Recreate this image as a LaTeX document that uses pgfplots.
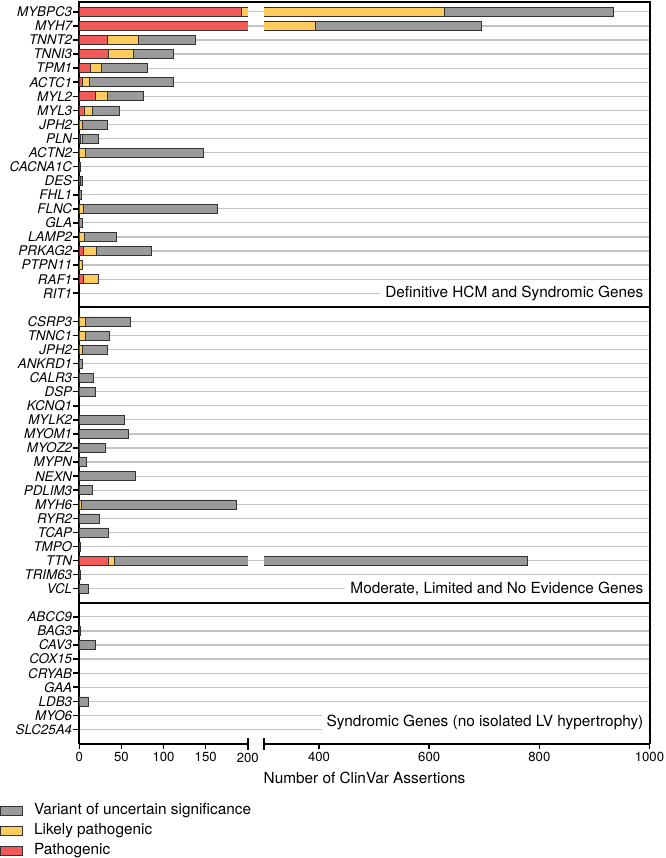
\documentclass[border=0pt]{standalone}
\usepackage{fontspec}
\setmainfont{TeX Gyre Heros}
\usepackage{pgfplots}
\usepackage{pgfplotstable}
\pgfplotsset{compat=1.18}

\definecolor{cP}{HTML}{F25A5A}
\definecolor{cLP}{HTML}{FECC5C}
\definecolor{cVUS}{HTML}{9A9A9A}
\definecolor{cEdge}{HTML}{333333}
\definecolor{cGrid}{HTML}{C4C4C4}

\newcommand\genefont{\fontsize{13.4}{15}\selectfont\itshape}
\newcommand\tickfont{\fontsize{13.2}{15}\selectfont}
\newcommand\labfont{\fontsize{15.4}{18}\selectfont}

% Panel 1: Definitive HCM and Syndromic Genes
\pgfplotstableread{
idx P LP VUS
1 192 435 308
2 260 133 301
3 33 37 68
4 35 29 47
5 13 13 55
6 4 8 100
7 19 14 43
8 6 9 32
9 0 3 30
10 1 2 19
11 0 7 140
12 0 0 1
13 0 1 2
14 0 0 2
15 0 5 159
16 0 0 3
17 0 6 38
18 5 15 66
19 0 3 0
20 5 18 0
21 0 0 0
}\panelA

% Panel 2: Moderate, Limited and No Evidence Genes
\pgfplotstableread{
idx P LP VUS
1 0 7 54
2 0 7 29
3 0 3 30
4 0 0 3
5 0 0 17
6 0 0 19
7 0 0 0
8 0 0 54
9 0 0 58
10 0 0 31
11 0 0 8
12 0 0 67
13 0 0 15
14 0 2 184
15 0 0 24
16 0 0 35
17 0 0 1
18 35 6 738
19 0 0 1
20 0 0 11
}\panelB

% Panel 3: Syndromic Genes (no isolated LV hypertrophy)
\pgfplotstableread{
idx P LP VUS
1 0 0 0
2 0 0 1
3 0 0 19
4 0 0 0
5 0 0 0
6 0 0 0
7 0 0 11
8 0 0 0
9 0 0 0
}\panelC

\pgfplotsset{
  base/.style={scale only axis, anchor=north west, y dir=reverse,
    /pgf/number format/assume math mode=true,
    /pgf/number format/1000 sep={},
    tick style={black, line width=1.5bp}},
  bg/.style={base, clip=false, xmin=0, xmax=1, width=570.2bp,
    xtick=\empty, ymajorgrids, major grid style={cGrid, line width=1.2bp},
    ytick pos=left, ytick align=outside, major tick length=6.5bp,
    yticklabel style={font=\genefont, inner xsep=0.5bp},
    axis line style={line width=2bp}},
  dat/.style={base, xbar stacked, bar width=9bp},
  left/.style={dat, width=168.5bp, xmin=0, xmax=200},
  right/.style={dat, width=385.5bp, xmin=300, xmax=1000},
  barP/.style={fill=cP, draw=cEdge, line width=0.6bp},
  barLP/.style={fill=cLP, draw=cEdge, line width=0.6bp},
  barVUS/.style={fill=cVUS, draw=cEdge, line width=0.6bp},
  barHidden/.style={fill=none, draw=none},
  lg/.style={legend image code/.code={\draw[##1] (0bp,-4.5bp) rectangle (21.7bp,4.5bp);}},
}

\begin{document}
\begin{tikzpicture}
\path[use as bounding box] (0,0) rectangle (666bp,-858bp);

% ---------- Panel 1 ----------
\begin{axis}[bg, at={(79.3bp,-2bp)}, height=305.3bp, ymin=0.3, ymax=22,
  ytick={1,...,21},
  yticklabels={MYBPC3,MYH7,TNNT2,TNNI3,TPM1,ACTC1,MYL2,MYL3,JPH2,PLN,ACTN2,CACNA1C,DES,FHL1,FLNC,GLA,LAMP2,PRKAG2,PTPN11,RAF1,RIT1}]
\node[anchor=east, fill=white, inner xsep=5bp, inner ysep=1.5bp, font=\labfont] at (axis cs:0.99825,21) {Definitive HCM and Syndromic Genes};
\end{axis}
\begin{axis}[left, hide axis, at={(79.3bp,-2bp)}, height=305.3bp, ymin=0.3, ymax=22]
\addplot[barP] table[x=P, y=idx] {\panelA};
\addplot[barLP] table[x=LP, y=idx] {\panelA};
\addplot[barVUS] table[x=VUS, y=idx] {\panelA};
\end{axis}
\begin{axis}[right, hide axis, at={(264bp,-2bp)}, height=305.3bp, ymin=0.3, ymax=22]
\addplot[barHidden] table[x=P, y=idx] {\panelA};
\addplot[barLP] table[x=LP, y=idx] {\panelA};
\addplot[barVUS] table[x=VUS, y=idx] {\panelA};
\end{axis}

% ---------- Panel 2 ----------
\begin{axis}[bg, at={(79.3bp,-307.3bp)}, height=295.5bp, ymin=0, ymax=21,
  ytick={1,...,20},
  yticklabels={CSRP3,TNNC1,JPH2,ANKRD1,CALR3,DSP,KCNQ1,MYLK2,MYOM1,MYOZ2,MYPN,NEXN,PDLIM3,MYH6,RYR2,TCAP,TMPO,TTN,TRIM63,VCL}]
\node[anchor=east, fill=white, inner xsep=5bp, inner ysep=1.5bp, font=\labfont] at (axis cs:0.99825,20) {Moderate, Limited and No Evidence Genes};
\end{axis}
\begin{axis}[left, hide axis, at={(79.3bp,-307.3bp)}, height=295.5bp, ymin=0, ymax=21]
\addplot[barP] table[x=P, y=idx] {\panelB};
\addplot[barLP] table[x=LP, y=idx] {\panelB};
\addplot[barVUS] table[x=VUS, y=idx] {\panelB};
\end{axis}
\begin{axis}[right, hide axis, at={(264bp,-307.3bp)}, height=295.5bp, ymin=0, ymax=21]
\addplot[barHidden] table[x=P, y=idx] {\panelB};
\addplot[barLP] table[x=LP, y=idx] {\panelB};
\addplot[barVUS] table[x=VUS, y=idx] {\panelB};
\end{axis}

% ---------- Panel 3 ----------
\begin{axis}[bg, at={(79.3bp,-602.8bp)}, height=140.7bp, ymin=0, ymax=10,
  axis x line=none, axis y line=box,
  ytick={1,...,9},
  yticklabels={ABCC9,BAG3,CAV3,COX15,CRYAB,GAA,LDB3,MYO6,SLC25A4}]
\node[anchor=east, fill=white, inner xsep=5bp, minimum height=22bp, font=\labfont] at (axis cs:0.99825,8.5) {Syndromic Genes (no isolated LV hypertrophy)};
\node[font=\labfont] at (axis description cs:0.5002,-0.245) {Number of ClinVar Assertions};
\end{axis}
\begin{axis}[left, at={(79.3bp,-602.8bp)}, height=140.7bp, ymin=0, ymax=10,
  axis x line*=bottom, axis y line=none, ytick=\empty,
  x axis line style={-, line width=2bp},
  xtick={0,50,100,150}, extra x ticks={200},
  extra x tick style={tick align=center, major tick length=12bp},
  xtick align=outside, major tick length=5bp,
  xticklabel style={font=\tickfont},
  reverse legend,
  legend style={at={(-0.4706,-0.4257)}, anchor=north west, draw=none, fill=none,
    inner sep=0pt, row sep=4.7bp, column sep=11.6bp,
    cells={anchor=west}, font=\labfont,
    nodes={inner sep=0pt, text height=11bp, text depth=4bp}}]
\addplot[barP, lg] table[x=P, y=idx] {\panelC};
\addlegendentry{Pathogenic}
\addplot[barLP, lg] table[x=LP, y=idx] {\panelC};
\addlegendentry{Likely pathogenic}
\addplot[barVUS, lg] table[x=VUS, y=idx] {\panelC};
\addlegendentry{Variant of uncertain significance}
\end{axis}
\begin{axis}[right, at={(264bp,-602.8bp)}, height=140.7bp, ymin=0, ymax=10,
  axis x line*=bottom, axis y line=none, ytick=\empty,
  x axis line style={-, line width=2bp},
  xtick={400,600,800,1000}, extra x ticks={300}, extra x tick labels={},
  extra x tick style={tick align=center, major tick length=12bp},
  xtick align=outside, major tick length=5bp,
  xticklabel style={font=\tickfont}]
\addplot[barHidden] table[x=P, y=idx] {\panelC};
\addplot[barLP] table[x=LP, y=idx] {\panelC};
\addplot[barVUS] table[x=VUS, y=idx] {\panelC};
\end{axis}
\end{tikzpicture}
\end{document}
